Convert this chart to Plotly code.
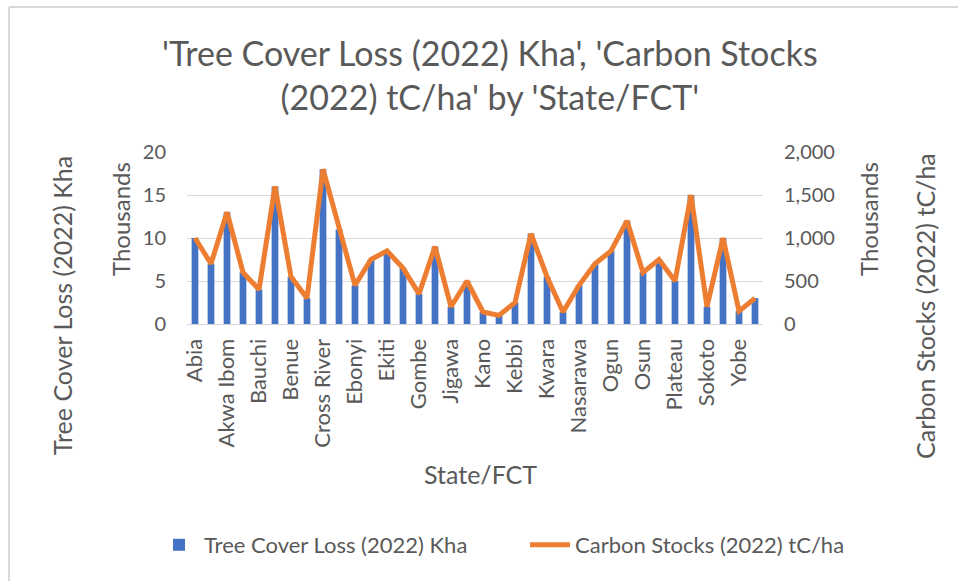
import plotly.graph_objects as go

states = ["Abia", "Adamawa", "Akwa Ibom", "Anambra", "Bauchi", "Bayelsa", "Benue", "Borno",
          "Cross River", "Delta", "Ebonyi", "Edo", "Ekiti", "Enugu", "Gombe", "Imo",
          "Jigawa", "Kaduna", "Kano", "Katsina", "Kebbi", "Kogi", "Kwara", "Lagos",
          "Nasarawa", "Niger", "Ogun", "Ondo", "Osun", "Oyo", "Plateau", "Rivers",
          "Sokoto", "Taraba", "Yobe", "Zamfara"]

tree_cover_loss = [10000, 7000, 13000, 6000, 4000, 16000, 5500, 3000,
                   18000, 11000, 4500, 7500, 8500, 6500, 3500, 9000,
                   2000, 5000, 1400, 1000, 2500, 10500, 5500, 1400,
                   4500, 7000, 8500, 12000, 6000, 7500, 5000, 15000,
                   2000, 10000, 1500, 3000]

carbon_stocks = [1000000, 700000, 1300000, 600000, 400000, 1600000, 550000, 300000,
                 1800000, 1100000, 450000, 750000, 850000, 650000, 350000, 900000,
                 200000, 500000, 140000, 100000, 250000, 1050000, 550000, 140000,
                 450000, 700000, 850000, 1200000, 600000, 750000, 500000, 1500000,
                 200000, 1000000, 150000, 300000]

left_ticks = [0, 5000, 10000, 15000, 20000]
left_ticktext = ["0", "5", "10", "15", "20"]
right_ticks = [0, 500000, 1000000, 1500000, 2000000]
right_ticktext = ["0", "500", "1,000", "1,500", "2,000"]

FONT = "Lato, 'Open Sans', sans-serif"
GREY = "#595959"

L, R, T, B = 187, 763, 152, 324
W, H = 958, 581

def py(p):
    return (B - p) / (B - T)

def px(p):
    return (p - L) / (R - L)

fig = go.Figure()
fig.add_trace(go.Bar(x=states, y=tree_cover_loss, name="Tree Cover Loss (2022) Kha",
                     marker=dict(color="#4472C4", line=dict(width=0)), yaxis="y",
                     legend="legend"))
fig.add_trace(go.Scatter(x=states, y=carbon_stocks, name="Carbon Stocks (2022) tC/ha",
                         mode="lines", line=dict(color="#ED7D31", width=5), yaxis="y2",
                         legend="legend2"))

legend_common = dict(orientation="h", xref="container", yref="container",
                     xanchor="left", yanchor="middle", y=(H - 545) / H,
                     font=dict(size=22, color=GREY), itemwidth=40,
                     bgcolor="rgba(0,0,0,0)")

fig.update_layout(
    width=W, height=H,
    margin=dict(l=L, r=W - R, t=T, b=H - B, autoexpand=False),
    paper_bgcolor="white", plot_bgcolor="white",
    font=dict(family=FONT, color=GREY, size=20),
    bargap=0.58,
    xaxis=dict(type="category", range=[-0.5, 35.5], tickangle=-90,
               tickvals=states[::2], ticktext=states[::2],
               showgrid=False, showline=True, linecolor="#D9D9D9", linewidth=1,
               ticks="", tickfont=dict(size=22, color=GREY), ticklabelstandoff=5),
    yaxis=dict(range=[0, 20000], tickvals=left_ticks, ticktext=left_ticktext,
               showgrid=True, gridcolor="#D9D9D9", gridwidth=1, zeroline=False,
               ticks="", tickfont=dict(size=20, color=GREY), ticklabelstandoff=20),
    yaxis2=dict(range=[0, 2000000], tickvals=right_ticks, ticktext=right_ticktext,
                overlaying="y", side="right", showgrid=False, zeroline=False,
                ticks="", tickfont=dict(size=20, color=GREY), ticklabelstandoff=20),
    legend=dict(legend_common, x=(205 - 51) / W),
    legend2=dict(legend_common, x=(576 - 51) / W),
    showlegend=True,
)

fig.add_annotation(text="'Tree Cover Loss (2022) Kha', 'Carbon Stocks<br>(2022) tC/ha' by 'State/FCT'",
                   x=px(490), y=py(74), xref="paper", yref="paper", showarrow=False,
                   xanchor="center", yanchor="middle",
                   font=dict(size=34, color=GREY, family=FONT))

annots = [
    dict(text="Tree Cover Loss (2022) Kha", x=px(62), y=py(306), size=25),
    dict(text="Thousands", x=px(120), y=py(219), size=24),
    dict(text="Thousands", x=px(868), y=py(219), size=24),
    dict(text="Carbon Stocks (2022) tC/ha", x=px(925), y=py(306), size=25),
]
for a in annots:
    fig.add_annotation(text=a["text"], x=a["x"], y=a["y"], xref="paper", yref="paper",
                       textangle=-90, showarrow=False,
                       xanchor="center", yanchor="middle",
                       font=dict(size=a["size"], color=GREY, family=FONT))
fig.add_annotation(text="State/FCT", x=px(480), y=py(474), xref="paper", yref="paper",
                   showarrow=False, xanchor="center", yanchor="middle",
                   font=dict(size=25, color=GREY, family=FONT))

fig.add_shape(type="line", xref="paper", yref="paper",
              x0=px(9), x1=px(9), y0=py(7), y1=py(585), line=dict(color="#D9D9D9", width=2))
fig.add_shape(type="line", xref="paper", yref="paper",
              x0=px(9), x1=px(960), y0=py(7), y1=py(7), line=dict(color="#D9D9D9", width=2))

fig.write_html("out.html", config={"displayModeBar": False},
               post_script="document.body.style.margin='0';")
